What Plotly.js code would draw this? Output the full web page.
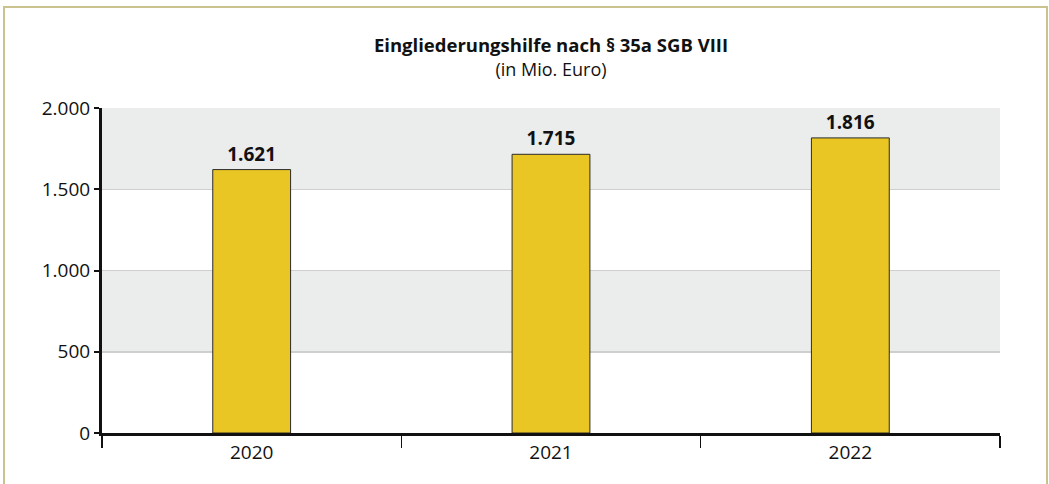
<!DOCTYPE html>
<html>
<head>
<meta charset="utf-8">
<script src="https://cdn.plot.ly/plotly-3.0.1.min.js"></script>
<style>
  body { margin: 0; background: #fff; }
  #wrap { position: relative; width: 1049px; height: 484px; overflow: hidden; }
  #chart { width: 1049px; height: 484px; }
  #frame { position: absolute; left: 3px; top: 6px; width: 1041px; height: 520px;
           border: 2px solid #cbc38f; pointer-events: none; }
</style>
</head>
<body>
<div id="wrap">
  <div id="chart"></div>
  <div id="frame"></div>
</div>
<script>
// Werte in Mio. Euro
const years = ['2020', '2021', '2022'];
const values = [1621, 1715, 1816];
const yTicks = [0, 500, 1000, 1500, 2000];

const fontFam = '"Open Sans", "Noto Sans", sans-serif';

// graue Bänder zwischen den Gitterlinien
const bands = [[500, 1000], [1500, 2000]].map(b => ({
    type: 'rect', xref: 'paper', yref: 'y', x0: 0, x1: 1, y0: b[0], y1: b[1],
    fillcolor: '#ebecec', line: { width: 0 }, layer: 'below'
}));

const trace = {
    type: 'bar',
    x: years,
    y: values,
    marker: { color: '#eac624', line: { color: '#2b2b2b', width: 1 } },
    width: 0.26,
    text: values,
    texttemplate: '<b>%{y:,d}</b>',
    textposition: 'outside',
    cliponaxis: false,
    textfont: { family: fontFam, size: 19, color: '#111' },
    hoverinfo: 'skip'
};

const layout = {
    width: 1049,
    height: 484,
    margin: { l: 102, r: 49, t: 108, b: 51 },
    separators: ',.',
    paper_bgcolor: '#fff',
    plot_bgcolor: 'rgba(0,0,0,0)',
    font: { family: fontFam, size: 18, color: '#111' },
    showlegend: false,
    title: {
        text: '<b>Eingliederungshilfe nach § 35a SGB VIII</b><br><span style="font-size:18px">(in Mio. Euro)</span>',
        font: { family: fontFam, size: 18.5, color: '#111' },
        xref: 'paper', x: 0.5, xanchor: 'center',
        yref: 'container', y: 0.892, yanchor: 'top'
    },
    xaxis: {
        type: 'category',
        range: [-0.5, 2.5],
        tickson: 'boundaries',
        ticks: 'outside',
        ticklen: 12,
        tickwidth: 1.5,
        tickcolor: '#111',
        showline: true,
        linecolor: '#111',
        linewidth: 3,
        showgrid: false,
        tickfont: { size: 19 }
    },
    yaxis: {
        range: [0, 2000],
        tickvals: yTicks,
        tickformat: ',d',
        ticks: 'outside',
        ticklen: 5,
        tickwidth: 2,
        tickcolor: '#111',
        showline: true,
        linecolor: '#111',
        linewidth: 3,
        showgrid: true,
        gridcolor: '#cfcfcf',
        gridwidth: 1.5,
        zeroline: false,
        tickfont: { size: 19 }
    },
    shapes: bands
};

Plotly.newPlot('chart', [trace], layout, { staticPlot: true });
</script>
</body>
</html>
